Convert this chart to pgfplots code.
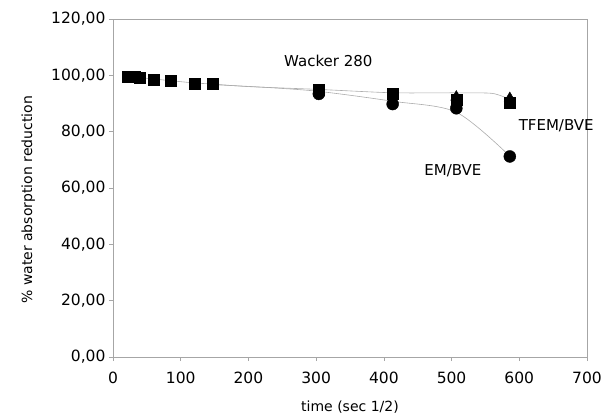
\documentclass[border=0pt]{standalone}
\usepackage{pgfplots}
\pgfplotsset{compat=1.18}
\usepackage{fontspec}
\setmainfont{DejaVu Sans}

\begin{document}
\begin{tikzpicture}
\begin{axis}[
    at={(0,0)}, anchor=south west,
    scale only axis,
    width=474pt, height=338pt,
    xmin=0, xmax=700, ymin=0, ymax=120,
    xtick={0,100,...,700},
    ytick={0,20,...,120},
    tick align=outside,
    major tick length=4pt,
    xtick pos=bottom, ytick pos=left,
    axis line style={gray!70, line width=0.7pt},
    tick style={gray!70, line width=0.7pt},
    /pgf/number format/assume math mode=true,
    ticklabel style={font=\fontsize{15.5}{17}\selectfont},
    xticklabel style={yshift=-7pt},
    yticklabel style={/pgf/number format/.cd, fixed, fixed zerofill, precision=2, use comma},
    every axis x label/.style={at={(axis description cs:0.5,-0.148)}, anchor=center},
    every axis y label/.style={at={(axis description cs:-0.179,0.465)}, rotate=90, anchor=center},
    label style={font=\fontsize{14}{16}\selectfont},
    xlabel={time (sec 1/2)},
    ylabel={\% water absorption reduction},
    clip=false,
]
% trend lines
\addplot[gray!65, line width=0.6pt, smooth, tension=0.4] coordinates {
    (22,99.8) (39,99.2) (60,98.7) (85,98.1) (120,97.3) (147,96.9) (200,96.0)
    (304,95.0) (413,93.8) (507,93.8) (560,93.6) (586,91.5)
};
\addplot[gray!65, line width=0.6pt, smooth, tension=0.5] coordinates {
    (147,96.7) (220,95.8) (304,94.3) (413,90.8) (507,86.9) (586,71.3)
};
% EM/BVE
\addplot[only marks, mark=*, mark size=6pt, black] coordinates {
    (304,93.4) (413,89.8) (507,88.3) (586,71.2)
};
% TFEM/BVE
\addplot[only marks, mark=triangle*, mark size=6.5pt, black] coordinates {
    (507,92.3) (586,91.8)
};
% Wacker 280
\addplot[only marks, mark=square*, mark size=5.5pt, black] coordinates {
    (22,99.6) (32,99.4) (39,99.1) (60,98.6) (85,98.2) (120,97.1) (147,97.0)
    (304,94.9) (413,93.4) (507,91.5) (586,90.3)
};
\node[font=\fontsize{15}{17}\selectfont] at (axis cs:318,105) {Wacker 280};
\node[font=\fontsize{15}{17}\selectfont, anchor=west] at (axis cs:594,82) {TFEM/BVE};
\node[font=\fontsize{15}{17}\selectfont] at (axis cs:502,66) {EM/BVE};
\end{axis}
\pgfresetboundingbox
\path[use as bounding box] (-113pt,-59pt) rectangle (496pt,357pt);
\end{tikzpicture}
\end{document}
